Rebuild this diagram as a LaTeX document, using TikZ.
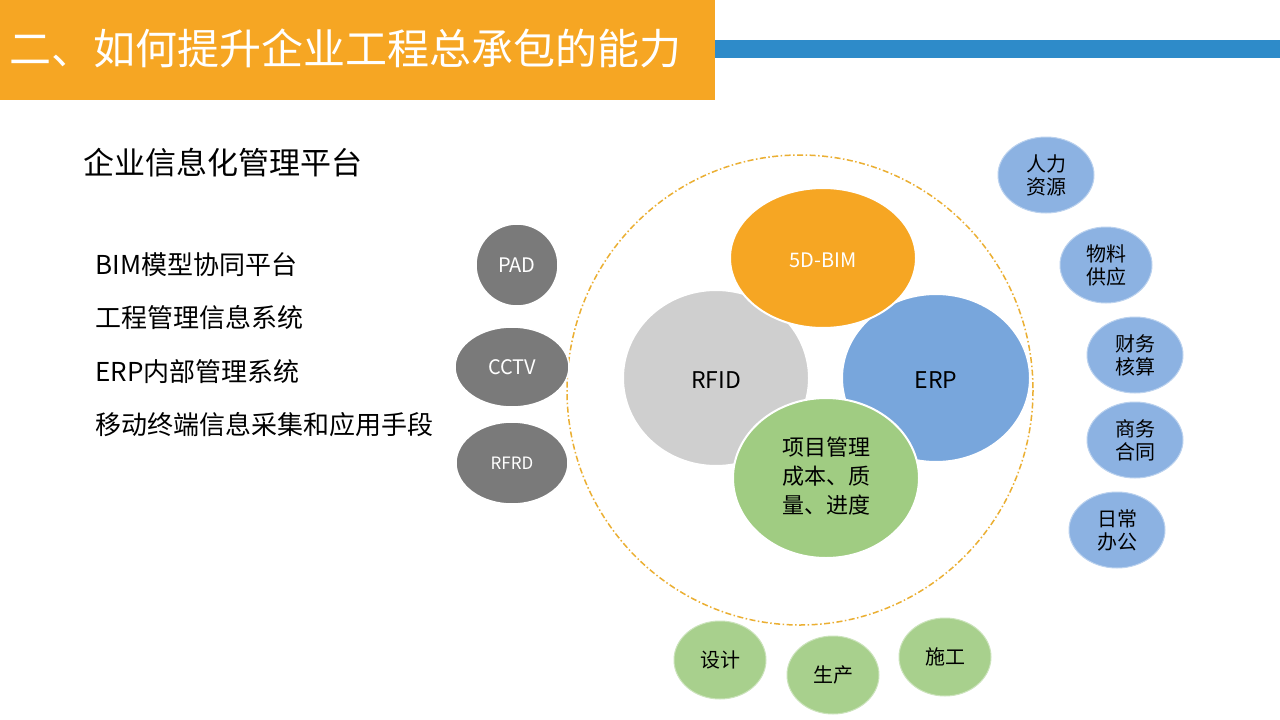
\documentclass[tikz,border=0pt]{standalone}
\usetikzlibrary{shapes.geometric}
\usepackage{fontspec}
\setmainfont{Noto Sans CJK SC}
\definecolor{org}{RGB}{246,166,35}
\definecolor{bar}{RGB}{46,139,201}
\definecolor{dashc}{RGB}{235,175,50}
\definecolor{erpc}{RGB}{120,166,220}
\definecolor{pmc}{RGB}{160,204,130}
\definecolor{sbl}{RGB}{140,178,226}
\definecolor{sgr}{RGB}{168,208,141}
\begin{document}
\begin{tikzpicture}[x=1pt,y=-1pt,
 gcirc/.style={draw=white,line width=1.5pt,fill=black!52,text=white},
 big/.style={draw=white,line width=2pt},
 sblue/.style={draw=sbl!60!white,line width=1pt,fill=sbl,font=\fontsize{20}{23}\selectfont,align=center,shape=ellipse,minimum width=96,minimum height=76,inner sep=0},
 sgreen/.style={draw=sgr!60!white,line width=1pt,fill=sgr,font=\fontsize{20}{23}\selectfont,align=center,shape=ellipse,minimum width=92,minimum height=78,inner sep=0},
 item/.style={anchor=west,font=\fontsize{26}{30}\selectfont}]
\useasboundingbox (0,0) rectangle (1280,720);
\fill[white] (0,0) rectangle (1280,720);
\fill[org] (0,0) rectangle (715,100);
\fill[bar] (715,40) rectangle (1280,58);
\node[anchor=west,text=white,font=\fontsize{42}{48}\selectfont] (title) at (6,48) {二、如何提升企业工程总承包的能力};
\node[anchor=west,font=\fontsize{31}{36}\selectfont] (sub) at (80,163) {企业信息化管理平台};
\node[item] (l1) at (92,265) {BIM模型协同平台};
\node[item] (l2) at (92,318) {工程管理信息系统};
\node[item] (l3) at (92,372) {ERP内部管理系统};
\node[item] (l4) at (92,425) {移动终端信息采集和应用手段};
\draw[dashc,line width=1.5pt,dash pattern=on 6pt off 2.5pt on 1.5pt off 2.5pt] (800,390) ellipse [x radius=233,y radius=235];
\draw[gcirc] (517,265) ellipse [x radius=41,y radius=41];
\node[text=white,font=\fontsize{20}{24}\selectfont] (pad) at (517,265) {PAD};
\draw[gcirc] (512,367) ellipse [x radius=57,y radius=40];
\node[text=white,font=\fontsize{20}{24}\selectfont] (cctv) at (512,367) {CCTV};
\draw[gcirc] (512,463) ellipse [x radius=56,y radius=41];
\node[text=white,font=\fontsize{17}{20}\selectfont] (rfrd) at (512,463) {RFRD};
\draw[big,fill=black!19] (716,378) ellipse [x radius=93,y radius=88];
\node[font=\fontsize{23}{26}\selectfont] (rfid) at (716,380) {RFID};
\draw[big,fill=erpc] (936,378) ellipse [x radius=94,y radius=84];
\node[font=\fontsize{23}{26}\selectfont] (erp) at (936,380) {ERP};
\draw[big,fill=org] (823,258) ellipse [x radius=93,y radius=70];
\node[text=white,font=\fontsize{20}{22}\selectfont] (bim) at (823,260) {5D-BIM};
\draw[big,fill=pmc] (826,478) ellipse [x radius=93,y radius=80];
\node[align=center,font=\fontsize{22}{29}\selectfont] (pm) at (826,476) {项目管理\\成本、质\\量、进度};
\node[sblue] (hr) at (1046,175) {人力\\资源};
\node[sblue,minimum width=92] (wl) at (1106,265) {物料\\供应};
\node[sblue] (cw) at (1135,355) {财务\\核算};
\node[sblue] (sw) at (1135,440) {商务\\合同};
\node[sblue] (rc) at (1117,530) {日常\\办公};
\node[sgreen] (sj) at (720,660) {设计};
\node[sgreen] (sc) at (833,675) {生产};
\node[sgreen] (sg) at (945,657) {施工};
\end{tikzpicture}
\end{document}
